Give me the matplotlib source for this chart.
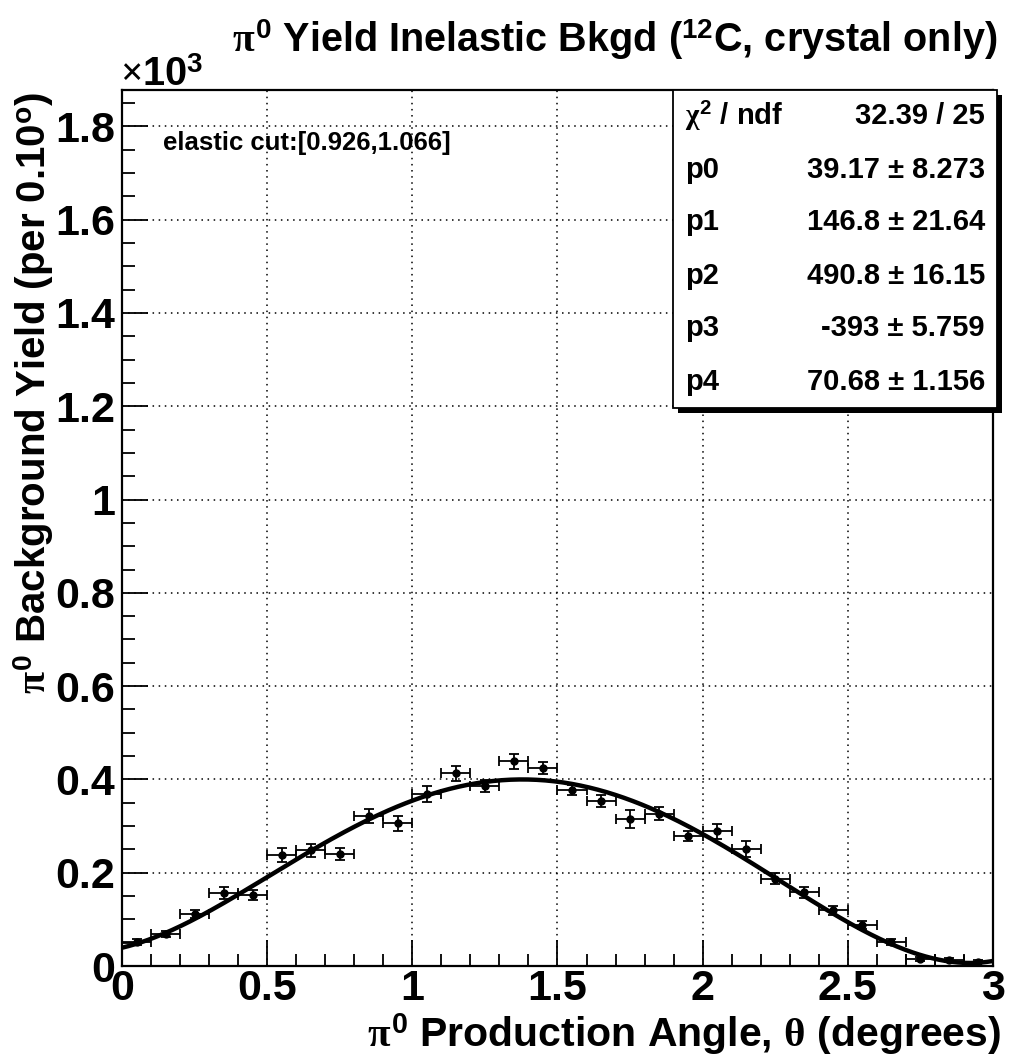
import numpy as np
import matplotlib
matplotlib.use('Agg')
import matplotlib.pyplot as plt
from matplotlib.patches import Rectangle
from matplotlib.ticker import MultipleLocator, FuncFormatter

# bold Helvetica-like text, serif greek letters (ROOT symbol font look)
plt.rcParams['font.family'] = 'Liberation Sans'
plt.rcParams['font.weight'] = 'bold'
plt.rcParams['mathtext.fontset'] = 'custom'
plt.rcParams['mathtext.rm'] = 'Liberation Serif'
plt.rcParams['mathtext.it'] = 'Liberation Serif'
plt.rcParams['mathtext.bf'] = 'Liberation Sans:bold'

# pi0 production angle bins (degrees) and background yield (x10^3)
angle = [0.05, 0.15, 0.25, 0.35, 0.45, 0.55, 0.65, 0.75, 0.85, 0.95,
         1.05, 1.15, 1.25, 1.35, 1.45, 1.55, 1.65, 1.75, 1.85, 1.95,
         2.05, 2.15, 2.25, 2.35, 2.45, 2.55, 2.65, 2.75, 2.85, 2.95]
angle_err = [0.05] * 30
bkg_yield = [0.051, 0.069, 0.112, 0.156, 0.153, 0.239, 0.248, 0.241, 0.321, 0.306,
             0.368, 0.413, 0.386, 0.439, 0.425, 0.378, 0.354, 0.315, 0.326, 0.279,
             0.289, 0.251, 0.187, 0.158, 0.119, 0.088, 0.051, 0.015, 0.013, 0.009]
yield_err = [0.006, 0.007, 0.009, 0.013, 0.011, 0.015, 0.014, 0.013, 0.015, 0.016,
             0.017, 0.016, 0.012, 0.016, 0.013, 0.011, 0.013, 0.019, 0.014, 0.011,
             0.016, 0.017, 0.012, 0.012, 0.009, 0.008, 0.007, 0.005, 0.004, 0.003]

# pol4 fit results (in raw counts)
fit_par = [39.17, 146.8, 490.8, -393.0, 70.68]
fit_err = [8.273, 21.64, 16.15, 5.759, 1.156]
chi2, ndf = 32.39, 25

W, H = 1012, 1063
def fx(px): return px / W
def fy(py): return 1 - py / H

fig = plt.figure(figsize=(W / 100, H / 100), dpi=100)
ax = fig.add_axes([fx(122), fy(966), fx(993) - fx(122), fy(90) - fy(966)])

# fit curve
xf = np.linspace(0, 3, 400)
yf = sum(p * xf**i for i, p in enumerate(fit_par)) / 1000.
ax.plot(xf, yf, color='black', lw=3.2, zorder=3)

ax.errorbar(angle, bkg_yield, xerr=angle_err, yerr=yield_err, fmt='o', color='black',
            ms=5, elinewidth=1.3, capsize=3.5, capthick=1.3, zorder=4)

ax.set_xlim(0, 3)
ax.set_ylim(0, 1.878)
ax.xaxis.set_major_locator(MultipleLocator(0.5))
ax.xaxis.set_minor_locator(MultipleLocator(0.1))
ax.yaxis.set_major_locator(MultipleLocator(0.2))
ax.yaxis.set_minor_locator(MultipleLocator(0.05))
fmt = FuncFormatter(lambda v, p: '%g' % round(v, 2))
ax.xaxis.set_major_formatter(fmt)
ax.yaxis.set_major_formatter(fmt)
ax.tick_params(which='both', direction='in', top=False, right=False, width=1.3,
               labelsize=31)
ax.tick_params(axis='x', pad=2)
ax.tick_params(axis='y', pad=5)
ax.tick_params(which='major', length=19)
ax.tick_params(which='minor', length=9)
ax.grid(True, which='major', color='black', linestyle=(0, (1, 3)), lw=1.1)
for s in ax.spines.values():
    s.set_linewidth(1.6)

fig.text(fx(163), fy(150), 'elastic cut:[0.926,1.066]', fontsize=18.5,
         fontweight='bold', va='baseline', ha='left')

# labels and title
fig.text(fx(1001), fy(1047), r'$\pi^{\mathbf{0}}$ Production Angle, $\theta$ (degrees)',
         ha='right', va='baseline', fontsize=29.5, fontweight='bold')
fig.text(fx(34), fy(92), r'$\pi^{\mathbf{0}}$ Background Yield (per 0.10$^{\mathbf{o}}$)',
         ha='center', va='top', rotation=90, fontsize=29, fontweight='bold')
fig.text(fx(615), fy(52), r'$\pi^{\mathbf{0}}$ Yield Inelastic Bkgd ($^{\mathbf{12}}$C, crystal only)',
         ha='center', va='baseline', fontsize=28.5, fontweight='bold')
fig.text(fx(120), fy(86), r'$\times$10$^{\mathbf{3}}$', ha='left', va='baseline',
         fontsize=28.5, fontweight='bold')

# stat box with shadow
bx0, by0, bx1, by1 = 673, 90, 997, 408
fig.add_artist(Rectangle((fx(bx0 + 5), fy(by1 + 5)), fx(bx1 - bx0), fy(by0) - fy(by1),
                         transform=fig.transFigure, facecolor='black', edgecolor='none'))
fig.add_artist(Rectangle((fx(bx0), fy(by1)), fx(bx1 - bx0), fy(by0) - fy(by1),
                         transform=fig.transFigure, facecolor='white', edgecolor='black', lw=1.3))
rows = [(r'$\chi^{\mathbf{2}}$ / ndf', '%.2f / %d' % (chi2, ndf))]
for i, (p, e) in enumerate(zip(fit_par, fit_err)):
    rows.append(('p%d' % i, '%.4g \u00b1 %.4g' % (p, e)))
row_h = (by1 - by0) / len(rows)
for i, (lab, val) in enumerate(rows):
    yc = by0 + row_h * (i + 0.5)
    fig.text(fx(685), fy(yc), lab, ha='left', va='center', fontsize=21, fontweight='bold')
    fig.text(fx(985), fy(yc), val, ha='right', va='center', fontsize=21, fontweight='bold')

fig.savefig('out.png', dpi=100)
